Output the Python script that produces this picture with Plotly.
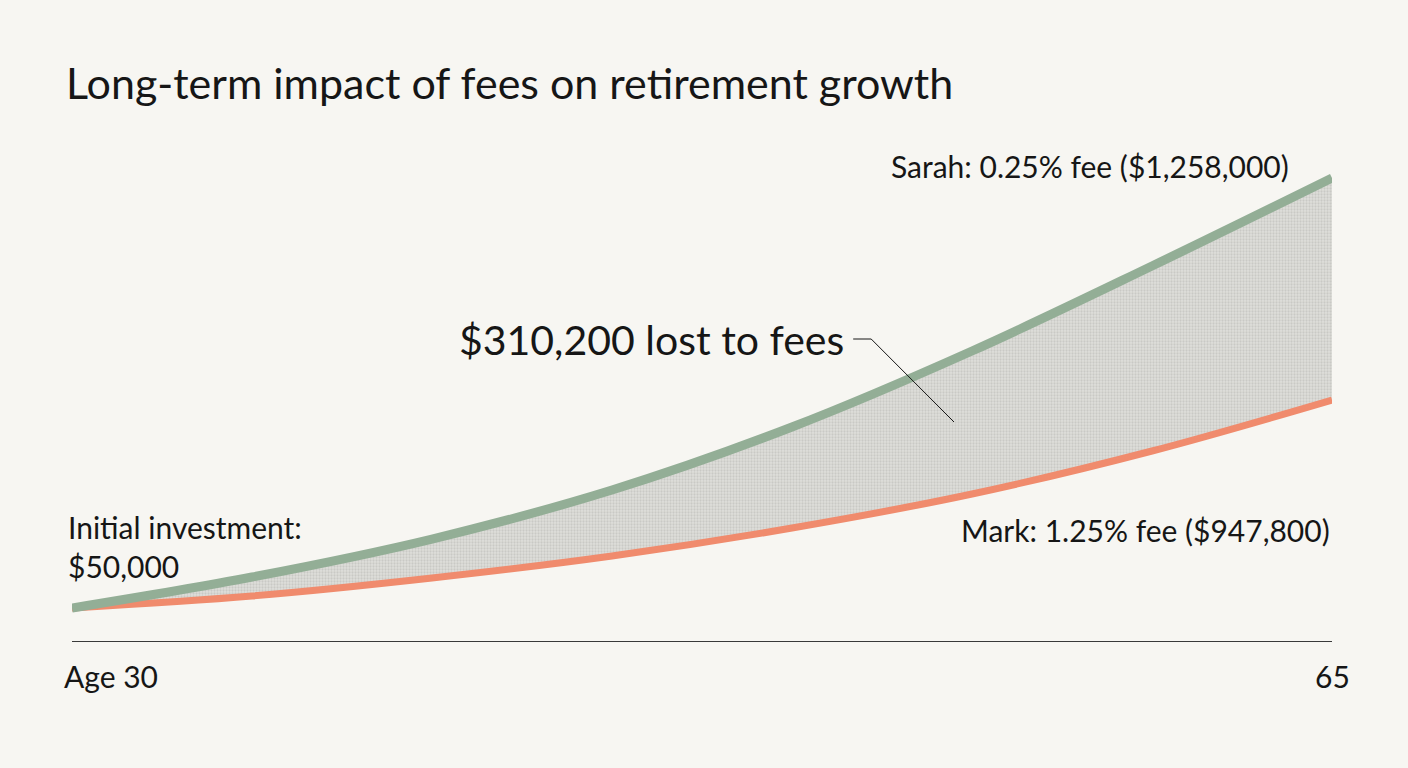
import plotly.graph_objects as go

# ages on the x axis, balances (hidden y axis)
ages = [30, 35, 40, 45, 50, 55, 60, 65]
sarah = [50000, 137100, 243800, 381500, 558500, 772000, 1010800, 1258000]
mark = [50000, 83700, 134300, 196100, 274700, 370300, 491100, 634300]

sarah_label = "Sarah: 0.25% fee ($1,258,000)"
mark_label = "Mark: 1.25% fee ($947,800)"
start_label = "Initial investment:<br>$50,000"
gap_label = "$310,200 lost to fees"
age_start = "Age 30"
age_end = "65"

FONT = "Lato"
INK = "#161616"
GREEN = "#93ae96"
ORANGE = "#f08b6d"
BG = "#f7f6f2"

fig = go.Figure()

fig.add_trace(go.Scatter(
    x=ages, y=mark, mode="lines",
    line=dict(color=ORANGE, width=7, shape="spline"),
    hoverinfo="skip", showlegend=False,
))
fig.add_trace(go.Scatter(
    x=ages, y=sarah, mode="lines",
    line=dict(color=GREEN, width=9, shape="spline"),
    fill="tonexty",
    fillcolor="rgba(205,205,200,0.6)",
    fillpattern=dict(shape=".", size=3, solidity=0.45,
                     fgcolor="#b3b3af", bgcolor="#dfdfdb"),
    hoverinfo="skip", showlegend=False,
))

# leader line from the label into the shaded gap
fig.add_shape(type="path", xref="x", yref="y",
              path="M 51.7,805700 L 52.2,805700 L 54.5,572500",
              line=dict(color=INK, width=1))

fig.add_annotation(x=51.5, y=805700, xref="x", yref="y", text=gap_label,
                   showarrow=False, xanchor="right", yanchor="middle",
                   font=dict(family=FONT, size=41, color=INK))
fig.add_annotation(x=63.85, y=1292000, xref="x", yref="y", text=sarah_label,
                   showarrow=False, xanchor="right", yanchor="middle",
                   font=dict(family=FONT, size=30, color=INK))
fig.add_annotation(x=65, y=270000, xref="x", yref="y", text=mark_label,
                   showarrow=False, xanchor="right", yanchor="middle",
                   font=dict(family=FONT, size=30, color=INK))
fig.add_annotation(x=-6 / 1260, y=222000, xref="paper", yref="y",
                   text=start_label, showarrow=False, align="left",
                   xanchor="left", yanchor="middle",
                   font=dict(family=FONT, size=30, color=INK))
fig.add_annotation(x=-10 / 1260, y=0, xref="paper", yref="paper", text=age_start,
                   showarrow=False, xanchor="left", yanchor="top", yshift=-15,
                   font=dict(family=FONT, size=30, color=INK))
fig.add_annotation(x=1 + 20 / 1260, y=0, xref="paper", yref="paper", text=age_end,
                   showarrow=False, xanchor="right", yanchor="top", yshift=-15,
                   font=dict(family=FONT, size=30, color=INK))

fig.update_layout(
    width=1408, height=768,
    paper_bgcolor=BG, plot_bgcolor=BG,
    margin=dict(l=72, r=76, t=130, b=127),
    title=dict(text="Long-term impact of fees on retirement growth",
               x=66 / 1408, xanchor="left", y=1 - 84 / 768, yanchor="middle",
               font=dict(family=FONT, size=43, color=INK)),
)
fig.update_xaxes(range=[30, 65], showgrid=False, zeroline=False,
                 showticklabels=False, ticks="",
                 showline=True, linecolor="#3a3a3a", linewidth=1)
fig.update_yaxes(range=[-42700, 1392850], visible=False)

fig.write_html("out.html", config={"displayModeBar": False},
               post_script="document.body.style.margin='0';"
                           "document.body.style.background='#f7f6f2';")
